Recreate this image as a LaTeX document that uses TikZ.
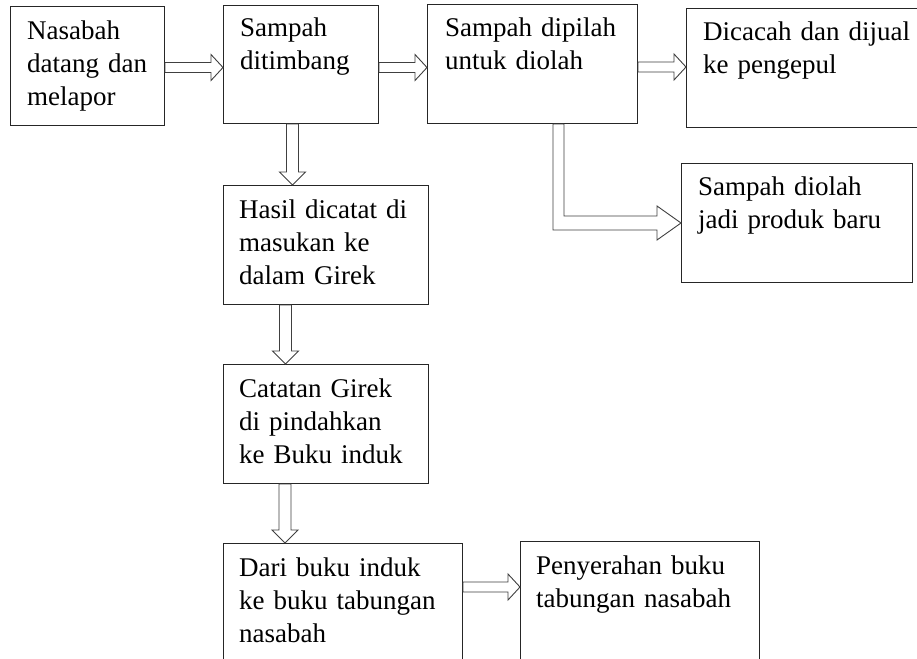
\documentclass[tikz,border=0pt]{standalone}
\usepackage{fontspec}
\setmainfont{Liberation Serif}
\usetikzlibrary{calc}
\begin{document}
\begin{tikzpicture}[x=1pt,y=-1pt,
  box/.style={draw=black!85, line width=1pt, rectangle, inner sep=0pt, anchor=north west},
  txt/.style={anchor=base west, inner sep=0pt, align=left, text width=#1,
    font=\fontsize{27}{33}\selectfont, text=black},
  blk/.style={draw=black!75, line width=0.9pt, fill=white, line join=miter},
  harr/.style={blk,
    to path={let \p1=(\tikztostart), \p2=(\tikztotarget) in
      (\x1,\y1+5pt) -- (\x2-12pt,\y1+5pt) -- (\x2-12pt,\y1+13pt) -- (\x2,\y1)
      -- (\x2-12pt,\y1-13pt) -- (\x2-12pt,\y1-5pt) -- (\x1,\y1-5pt) -- cycle}},
  varr/.style={blk,
    to path={let \p1=(\tikztostart), \p2=(\tikztotarget) in
      (\x1-6pt,\y1) -- (\x1-6pt,\y2+13pt) -- (\x1-13pt,\y2+13pt) -- (\x1,\y2)
      -- (\x1+13pt,\y2+13pt) -- (\x1+6pt,\y2+13pt) -- (\x1+6pt,\y1) -- cycle}}]
\useasboundingbox (0,0) rectangle (917,658);
\fill[white] (0,0) rectangle (917,658);

% boxes
\node[box, minimum width=154pt, minimum height=119pt] (b1) at (10,6) {};
\node[box, minimum width=155pt, minimum height=118pt] (b2) at (223,5) {};
\node[box, minimum width=210pt, minimum height=119pt] (b3) at (427,4) {};
\node[box, minimum width=240pt, minimum height=119pt] (b4) at (686,8) {};
\node[box, minimum width=231pt, minimum height=119pt] (b5) at (681,163) {};
\node[box, minimum width=205pt, minimum height=119pt] (b6) at (223,185) {};
\node[box, minimum width=205pt, minimum height=119pt] (b7) at (223,364) {};
\node[box, minimum width=239pt, minimum height=130pt] (b8) at (223,543) {};
\node[box, minimum width=239pt, minimum height=130pt] (b9) at (520,541) {};

% texts
\node[txt=140pt] (t1) at (27,40) {Nasabah\\datang dan\\melapor};
\node[txt=140pt] (t2) at (240,37) {Sampah\\ditimbang};
\node[txt=200pt] (t3) at (445,37) {Sampah dipilah\\untuk diolah};
\node[txt=220pt] (t4) at (703,41) {Dicacah dan dijual\\ke pengepul};
\node[txt=220pt] (t5) at (698,195) {Sampah diolah\\jadi produk baru};
\node[txt=190pt] (t6) at (239,218) {Hasil dicatat di\\masukan ke\\dalam Girek};
\node[txt=190pt] (t7) at (239,397) {Catatan Girek\\di pindahkan\\ke Buku induk};
\node[txt=230pt] (t8) at (239,576) {Dari buku induk\\ke buku tabungan\\nasabah};
\node[txt=230pt] (t9) at (536,574) {Penyerahan buku\\tabungan nasabah};

% horizontal block arrows
\draw[harr] ($(b1.north east)+(0,61.5)$) to (b2.west);
\draw[harr] ($(b2.north east)+(0,62.5)$) to (b3.west);
\draw[harr] ($(b3.north east)+(0,63)$) to (b4.west);
\draw[harr] ($(b8.north east)+(0,44)$) to (b9.west);

% vertical block arrows
\draw[varr] ($(b2.south west)+(69.5,0)$) to (b6.north);
\draw[varr] ($(b6.south west)+(62.5,0)$) to (b7.north);
\draw[varr] ($(b7.south west)+(62,0)$) to (b8.north);

% elbow arrow
\draw[blk]
  let \p1=(b3.south west), \p2=(b5.west) in
  (\x1+126pt,\y1) -- (\x1+126pt,\y2-7pt) -- (\x2-24pt,\y2-7pt) -- (\x2-24pt,\y2-17pt)
  -- (\x2,\y2) -- (\x2-24pt,\y2+17pt) -- (\x2-24pt,\y2+7pt) -- (\x1+137pt,\y2+7pt)
  -- (\x1+137pt,\y1) -- cycle;
\end{tikzpicture}
\end{document}
